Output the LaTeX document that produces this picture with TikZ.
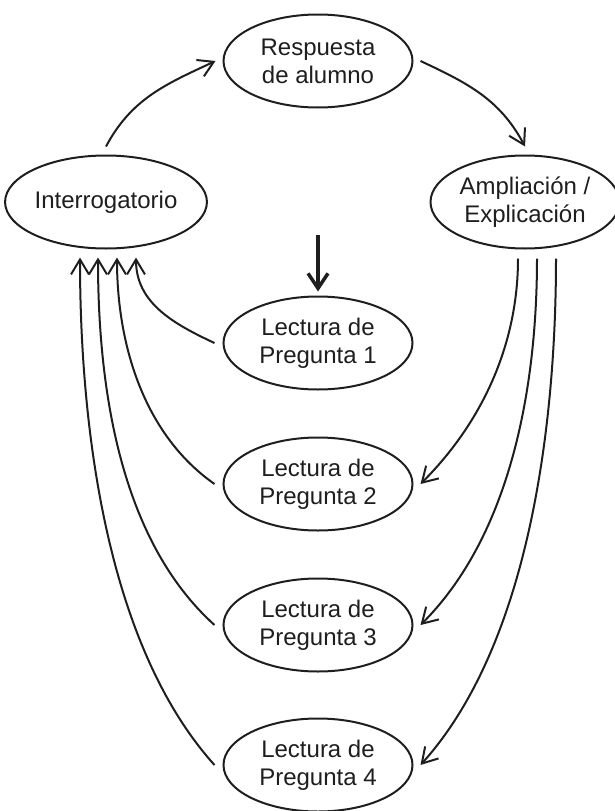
\documentclass[tikz,border=0pt]{standalone}
\usepackage{fontspec}
\setmainfont{Liberation Sans}
\usetikzlibrary{shapes.geometric,arrows.meta}
\definecolor{ink}{HTML}{1E1E1E}
\begin{document}
\begin{tikzpicture}[x=1pt,y=1pt,
  oval/.style={ellipse,draw=ink,line width=2pt,minimum width=189pt,minimum height=93pt,inner sep=0pt,align=center,
    font=\fontsize{24}{28}\selectfont,text=ink},
  conn/.style={draw=ink,line width=2pt,-{Straight Barb[length=15pt,width=18pt,line width=2pt]}}]
\useasboundingbox (0,0) rectangle (615,-811);
\node[oval] (resp) at (318,-61) {Respuesta\\de alumno};
\node[oval] (inter) at (106,-202) {Interrogatorio};
\node[oval] (ampl) at (525,-202) {Ampliación /\\Explicación};
\node[oval] (l1) at (318,-343) {Lectura de\\Pregunta 1};
\node[oval] (l2) at (318,-484) {Lectura de\\Pregunta 2};
\node[oval] (l3) at (318,-625) {Lectura de\\Pregunta 3};
\node[oval] (l4) at (318,-765) {Lectura de\\Pregunta 4};
\coordinate (start) at (318,-235);
% top cycle
\draw[conn] ([yshift=8pt]inter.north) to[out=62,in=205] ([xshift=-7pt]resp.west);
\draw[conn] ([xshift=7pt]resp.east) to[out=-25,in=118] ([yshift=8pt]ampl.north);
% start arrow
\draw[draw=ink,line width=3.5pt,-{Straight Barb[length=15pt,width=20pt,line width=3.5pt]}] (start) -- ([yshift=4pt]l1.north);
% left returns
\draw[conn] ([xshift=-8pt]l1.west) to[out=155,in=-90,looseness=1] ([xshift=30pt,yshift=-8pt]inter.south);
\draw[conn] ([xshift=-8pt]l2.west) to[out=145,in=-90,looseness=0.9] ([xshift=11pt,yshift=-8pt]inter.south);
\draw[conn] ([xshift=-8pt]l3.west) to[out=138,in=-90,looseness=0.85] ([xshift=-8pt,yshift=-8pt]inter.south);
\draw[conn] ([xshift=-8pt]l4.west) to[out=132,in=-90,looseness=0.8] ([xshift=-26pt,yshift=-8pt]inter.south);
% right
\draw[conn] ([xshift=-7pt,yshift=-9pt]ampl.south) to[out=-90,in=45,looseness=0.9] ([xshift=7pt]l2.east);
\draw[conn] ([xshift=12pt,yshift=-9pt]ampl.south) to[out=-90,in=45,looseness=0.85] ([xshift=7pt]l3.east);
\draw[conn] ([xshift=31pt,yshift=-9pt]ampl.south) to[out=-90,in=48,looseness=0.8] ([xshift=7pt]l4.east);
\end{tikzpicture}
\end{document}
